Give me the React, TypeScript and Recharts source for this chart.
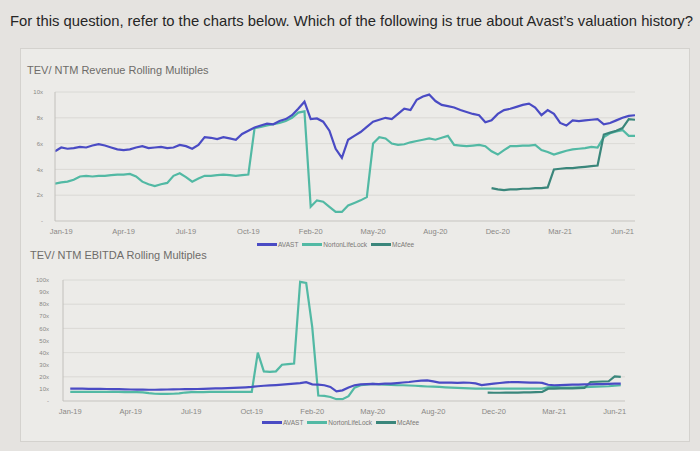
import { LineChart, Line, XAxis, YAxis, CartesianGrid } from 'recharts'

const question = 'For this question, refer to the charts below. Which of the following is true about Avast’s valuation history?'
const tickLabels = ['Jan-19', 'Apr-19', 'Jul-19', 'Oct-19', 'Feb-20', 'May-20', 'Aug-20', 'Dec-20', 'Mar-21', 'Jun-21']
const seriesNames = ['AVAST', 'NortonLifeLock', 'McAfee']
const seriesKeys = ['avast', 'norton', 'mcafee']
const COLORS: Record<string, string> = { avast: '#4a4bc4', norton: '#52b9a4', mcafee: '#3a867b' }

// samples every 0.1 of a tick interval (Jan-19 = 0 ... Jun-21 = 9)
const revStart = -0.1
const revAvast = [
  5.4, 5.7, 5.6, 5.65, 5.75, 5.7, 5.85, 5.95, 5.85, 5.7,
  5.55, 5.5, 5.55, 5.7, 5.8, 5.65, 5.7, 5.75, 5.65, 5.7,
  5.9, 5.8, 5.6, 5.9, 6.5, 6.45, 6.35, 6.5, 6.4, 6.3,
  6.75, 7.0, 7.25, 7.4, 7.55, 7.5, 7.75, 7.9, 8.2, 8.7,
  9.25, 7.9, 7.95, 7.7, 7.0, 5.6, 4.9, 6.3, 6.6, 6.9,
  7.3, 7.7, 7.85, 8.0, 7.9, 8.3, 8.7, 8.6, 9.4, 9.65,
  9.8, 9.3, 9.0, 8.9, 8.8, 8.6, 8.45, 8.3, 8.2, 7.65,
  7.8, 8.3, 8.6, 8.7, 8.85, 9.0, 9.1, 8.8, 8.2, 8.6,
  8.3, 7.6, 7.4, 7.8, 7.75, 7.8, 7.85, 7.9, 7.5, 7.6,
  7.8, 8.0, 8.15, 8.2,
]
const revNorton = [
  2.9, 3.0, 3.05, 3.2, 3.45, 3.5, 3.45, 3.5, 3.5, 3.55,
  3.6, 3.6, 3.65, 3.45, 3.05, 2.85, 2.7, 2.85, 2.95, 3.5,
  3.7, 3.4, 3.05, 3.3, 3.5, 3.5, 3.55, 3.6, 3.55, 3.5,
  3.55, 3.6, 7.2, 7.3, 7.4, 7.5, 7.6, 7.75, 8.0, 8.4,
  8.5, 1.1, 1.6, 1.5, 1.1, 0.7, 0.7, 1.2, 1.4, 1.6,
  1.85, 6.0, 6.5, 6.4, 6.0, 5.9, 5.95, 6.1, 6.2, 6.3,
  6.4, 6.3, 6.45, 6.6, 5.9, 5.85, 5.8, 5.85, 5.9, 5.8,
  5.4, 5.15, 5.5, 5.8, 5.8, 5.85, 5.85, 5.9, 5.5, 5.35,
  5.15, 5.3, 5.45, 5.55, 5.6, 5.65, 5.75, 5.7, 6.5, 6.8,
  6.95, 7.05, 6.6, 6.6,
]
const revMcafeeStart = 6.9
const revMcafee = [
  2.55, 2.45, 2.4, 2.45, 2.45, 2.5, 2.5, 2.55, 2.55, 2.6,
  4.0, 4.05, 4.1, 4.1, 4.15, 4.2, 4.25, 4.3, 6.7, 6.85,
  7.0, 7.2, 7.9, 7.85,
]
const revTicks = [0, 2, 4, 6, 8, 10]

const ebitdaStart = 0
const ebitdaAvast = [
  10.2, 10.3, 10.2, 10.1, 10.0, 10.0, 9.9, 9.8, 9.8, 9.6,
  9.5, 9.4, 9.4, 9.3, 9.3, 9.4, 9.5, 9.6, 9.7, 9.8,
  9.8, 9.9, 10.0, 10.2, 10.4, 10.5, 10.7, 10.9, 11.1, 11.3,
  11.6, 12.2, 12.6, 12.9, 13.2, 13.5, 13.9, 14.3, 14.8, 15.6,
  13.8, 13.6, 13.0, 11.6, 8.0, 8.8, 11.2, 13.0, 13.8, 14.0,
  14.2, 14.0, 14.3, 14.4, 14.8, 15.3, 15.7, 16.3, 16.9, 17.1,
  16.2, 15.2, 15.3, 15.2, 15.0, 15.2, 15.1, 14.6, 13.2, 13.8,
  14.4, 14.9, 15.4, 15.7, 15.6, 15.4, 15.2, 15.3, 15.0, 13.4,
  13.0, 13.2, 13.4, 13.5, 13.6, 13.7, 13.8, 13.9, 14.0, 14.1,
  14.3, 14.4,
]
const ebitdaNorton = [
  7.5, 7.5, 7.6, 7.6, 7.5, 7.5, 7.6, 7.6, 7.5, 7.4,
  7.4, 7.3, 7.2, 6.5, 6.0, 5.9, 5.9, 6.0, 6.3, 7.0,
  7.3, 7.4, 7.4, 7.5, 7.5, 7.5, 7.6, 7.6, 7.5, 7.5,
  7.5, 40.0, 24.5, 24.0, 24.5, 30.0, 30.5, 31.0, 98.5, 97.5,
  61.0, 4.5, 4.2, 3.3, 1.5, 1.5, 4.0, 11.0, 13.0, 13.5,
  14.2, 13.8, 13.5, 13.3, 13.0, 13.0, 12.8, 12.6, 12.3, 12.0,
  11.8, 11.6, 11.3, 11.0, 10.8, 10.6, 10.4, 10.2, 10.2, 10.2,
  10.2, 10.2, 10.2, 10.2, 10.2, 10.3, 10.2, 10.2, 10.3, 11.2,
  11.6, 11.2, 11.0, 11.0, 11.2, 11.4, 11.6, 11.8, 12.0, 12.2,
  12.6, 13.0,
]
const ebitdaMcafeeStart = 6.9
const ebitdaMcafee = [
  6.9, 6.8, 6.8, 6.9, 7.0, 7.0, 7.1, 7.2, 7.3, 7.5,
  10.2, 10.3, 10.4, 10.5, 10.5, 10.6, 10.8, 15.7, 15.9, 16.1,
  16.3, 20.4, 20.0,
]
const ebitdaTicks = [0, 10, 20, 30, 40, 50, 60, 70, 80, 90, 100]

function buildRows(start: number, avast: number[], norton: number[], mcStart: number, mcafee: number[]) {
  const off = Math.round((mcStart - start) * 10)
  return avast.map((v, i) => ({
    t: +(start + i * 0.1).toFixed(2),
    avast: v,
    norton: norton[i],
    mcafee: i >= off ? mcafee[i - off] ?? null : null,
  }))
}

const FONT = '"Liberation Sans", Arial, sans-serif'

function MultipleChart({ rows, yTicks, top, height, left, right, xDomain, yGap }: {
  rows: any[]; yTicks: number[]; top: number; height: number; left: number; right: number
  xDomain: [number, number]; yGap: number
}) {
  return (
    <div style={{ position: 'absolute', left: 0, top }}>
      <LineChart width={700} height={height} data={rows} margin={{ top: 12, right, left, bottom: 0 }}>
        <CartesianGrid vertical={false} stroke="#d6d4d0" strokeWidth={0.8} />
        <XAxis
          dataKey="t"
          type="number"
          domain={xDomain}
          ticks={tickLabels.map((_, i) => i)}
          tickFormatter={(i: number) => tickLabels[i]}
          tickLine={false}
          axisLine={{ stroke: '#cfcdc9' }}
          tick={{ fontSize: 7.5, fill: '#8a8885', fontFamily: FONT }}
          allowDataOverflow
        />
        <YAxis
          width={30}
          domain={[0, yTicks[yTicks.length - 1]]}
          ticks={yTicks}
          tickFormatter={(v: number) => (v === 0 ? '-' : `${v}x`)}
          tickLine={false}
          tickMargin={yGap}
          axisLine={{ stroke: '#c2c0bc' }}
          tick={{ fontSize: 6, fill: '#8a8885', fontFamily: FONT }}
          allowDataOverflow
        />
        {['norton', 'mcafee', 'avast'].map(k => (
          <Line
            key={k}
            dataKey={k}
            type="linear"
            stroke={COLORS[k]}
            strokeWidth={2.2}
            dot={false}
            connectNulls={false}
            isAnimationActive={false}
          />
        ))}
      </LineChart>
    </div>
  )
}

function SeriesLegend({ left, top }: { left: number; top: number }) {
  return (
    <div style={{ position: 'absolute', left, top, display: 'flex', alignItems: 'center', fontFamily: FONT, fontSize: 6.5, color: '#7a7875' }}>
      {seriesKeys.map((k, i) => (
        <div key={k} style={{ display: 'flex', alignItems: 'center', marginRight: 4 }}>
          <div style={{ width: 20, height: 2.5, background: COLORS[k], marginRight: 1 }} />
          <span>{seriesNames[i]}</span>
        </div>
      ))}
    </div>
  )
}

export default function App() {
  const revRows = buildRows(revStart, revAvast, revNorton, revMcafeeStart, revMcafee)
  const ebitdaRows = buildRows(ebitdaStart, ebitdaAvast, ebitdaNorton, ebitdaMcafeeStart, ebitdaMcafee)
  return (
    <div style={{ position: 'absolute', left: 0, top: 0, width: 700, height: 451, overflow: 'hidden', background: '#e5e3e0', fontFamily: FONT }}>
      <div style={{ position: 'absolute', left: 10, top: 13, fontSize: 14.8, color: '#262626', whiteSpace: 'nowrap' }}>
        {question}
      </div>
      <div style={{ position: 'absolute', left: 20, top: 48, width: 668, height: 392, background: '#ecebe8', border: '1px solid #d4d2ce' }} />
      <div style={{ position: 'absolute', left: 27, top: 64, fontSize: 11, color: '#6e6c69', whiteSpace: 'nowrap' }}>
        TEV/ NTM Revenue Rolling Multiples
      </div>
      <MultipleChart rows={revRows} yTicks={revTicks} top={80} height={171} left={25} right={65} xDomain={[-0.1, 9.2]} yGap={6} />
      <SeriesLegend left={257} top={241} />
      <div style={{ position: 'absolute', left: 30, top: 249, fontSize: 11, color: '#6e6c69', whiteSpace: 'nowrap' }}>
        TEV/ NTM EBITDA Rolling Multiples
      </div>
      <MultipleChart rows={ebitdaRows} yTicks={ebitdaTicks} top={268} height={163} left={33} right={75} xDomain={[-0.12, 9.17]} yGap={8} />
      <SeriesLegend left={262} top={419} />
    </div>
  )
}
